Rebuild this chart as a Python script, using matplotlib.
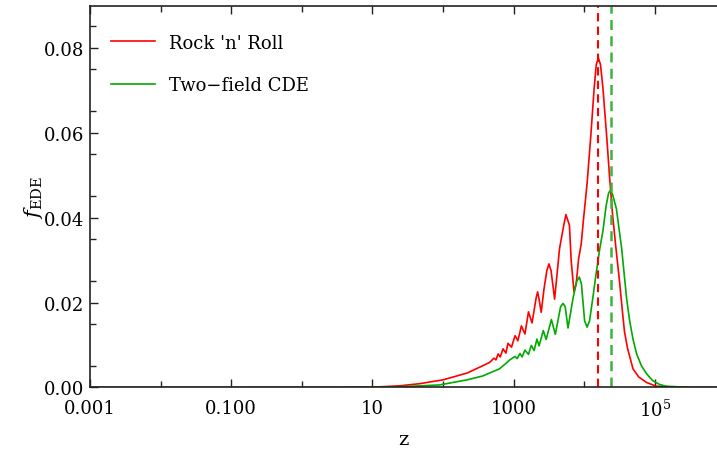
import numpy as np
import matplotlib
matplotlib.use('Agg')
import matplotlib.pyplot as plt
from matplotlib.ticker import FixedLocator, FixedFormatter

# values; x stored as log10(z)
rnr_logz = [-3.0, -1.0, 0.40, 1.0, 1.39, 1.67, 2.0, 2.34, 2.56, 2.66,
            2.72, 2.75, 2.78, 2.81, 2.85, 2.89, 2.92, 2.97, 3.02, 3.06,
            3.11, 3.16, 3.21, 3.26, 3.32, 3.34, 3.36, 3.39, 3.43, 3.47,
            3.50, 3.53, 3.58, 3.65, 3.71, 3.74, 3.79, 3.815, 3.855, 3.886,
            3.92, 3.957, 3.99, 4.04, 4.09, 4.14, 4.17, 4.20, 4.23, 4.265,
            4.32, 4.36, 4.40, 4.445, 4.50, 4.537, 4.57, 4.615, 4.69, 4.77,
            4.88, 5.02, 5.35, 5.87]
rnr_f = [0.0, 0.0, 0.00002, 0.00007, 0.0004, 0.0009, 0.0018, 0.0034, 0.0051, 0.0059,
         0.0069, 0.0065, 0.0079, 0.0072, 0.0091, 0.0081, 0.0104, 0.0095, 0.0122, 0.0110,
         0.0145, 0.0126, 0.0178, 0.0152, 0.0212, 0.0225, 0.0208, 0.0177, 0.0232, 0.0275,
         0.0291, 0.0275, 0.0208, 0.0327, 0.0382, 0.0407, 0.0382, 0.0298, 0.0225, 0.0244,
         0.0303, 0.0338, 0.0397, 0.0480, 0.0586, 0.0704, 0.0760, 0.0776, 0.0760, 0.0704,
         0.0586, 0.0492, 0.0409, 0.0334, 0.0249, 0.0185, 0.0131, 0.0091, 0.0044, 0.0025,
         0.0012, 0.0003, 0.00002, 0.0]

cde_logz = [-3.0, 0.40, 1.0, 1.39, 1.95, 2.34, 2.56, 2.80, 2.90, 2.945,
            3.02, 3.05, 3.09, 3.12, 3.16, 3.21, 3.25, 3.29, 3.33, 3.36,
            3.42, 3.46, 3.535, 3.59, 3.665, 3.70, 3.73, 3.77, 3.84, 3.89,
            3.93, 3.96, 4.005, 4.04, 4.075, 4.12, 4.168, 4.22, 4.265, 4.31,
            4.345, 4.37, 4.40, 4.455, 4.53, 4.60, 4.643, 4.69, 4.742, 4.81,
            4.884, 4.97, 5.068, 5.16, 5.49, 5.87]
cde_f = [0.0, 0.0, 0.00002, 0.00017, 0.0006, 0.0018, 0.0027, 0.0044, 0.0058, 0.0065,
         0.0073, 0.0068, 0.0080, 0.0072, 0.0088, 0.0078, 0.0099, 0.0087, 0.0114, 0.0098,
         0.0134, 0.0113, 0.0160, 0.0125, 0.0190, 0.0198, 0.0190, 0.0140, 0.0209, 0.0249,
         0.0260, 0.0244, 0.0157, 0.0142, 0.0157, 0.0209, 0.0268, 0.0327, 0.0369, 0.0428,
         0.0458, 0.0464, 0.0455, 0.0421, 0.0327, 0.0209, 0.0157, 0.0114, 0.0079, 0.0051,
         0.0032, 0.0016, 0.0007, 0.0003, 0.00002, 0.0]

# peak positions (log10 z) marked by dashed lines
rnr_peak_logz = 4.20
cde_peak_logz = 4.379

xtick_logz = [-3, -1, 1, 3, 5]
xtick_labels = ['0.001', '0.100', '10', '1000', r'$10^5$']
xminor_logz = [-2, 0, 2, 4]
ytick_vals = [0.0, 0.02, 0.04, 0.06, 0.08]
ytick_labels = ['0.00', '0.02', '0.04', '0.06', '0.08']

plt.rcParams['font.family'] = ['DejaVu Serif']
plt.rcParams['mathtext.fontset'] = 'dejavuserif'

fig = plt.figure(figsize=(7.17, 4.52), dpi=100)
ax = fig.add_axes([0.1255, 0.1405, 0.8745, 0.844])

red = '#ff0000'
green = '#00aa00'

ax.plot(10 ** np.array(rnr_logz), rnr_f, color=red, lw=1.2, label="Rock 'n' Roll")
ax.plot(10 ** np.array(cde_logz), cde_f, color=green, lw=1.2, label='Two\u2212field CDE')
ax.axvline(10 ** rnr_peak_logz, color=red, lw=1.5, ls=(0, (4, 2.5)))
ax.axvline(10 ** cde_peak_logz, color='#3cb43c', lw=1.8, ls=(0, (4, 2.5)))

ax.set_xscale('log')
ax.set_xlim(1e-3, 10 ** 5.88)
ax.set_ylim(0, 0.0898)

ax.xaxis.set_major_locator(FixedLocator([10.0 ** v for v in xtick_logz]))
ax.xaxis.set_major_formatter(FixedFormatter(xtick_labels))
ax.xaxis.set_minor_locator(FixedLocator([10.0 ** v for v in xminor_logz]))
ax.xaxis.set_minor_formatter(FixedFormatter([''] * len(xminor_logz)))
ax.set_yticks(ytick_vals)
ax.set_yticklabels(ytick_labels)
ax.set_yticks(np.arange(0.005, 0.09, 0.01), minor=True)

ax.tick_params(which='both', direction='in', top=True, right=False,
               labelsize=13, color='#222222', width=1.0)
ax.tick_params(which='major', length=6)
ax.tick_params(axis='x', which='major', pad=8)
ax.tick_params(axis='y', which='major', pad=4)
ax.tick_params(which='minor', length=4)
ax.spines['right'].set_visible(False)
for s in ['left', 'top', 'bottom']:
    ax.spines[s].set_color('#222222')
    ax.spines[s].set_linewidth(1.2)

ax.set_xlabel('z', fontsize=14, labelpad=7)
ax.set_ylabel(r'$f_{\rm EDE}$', fontsize=15, labelpad=-1)

ax.legend(loc='upper left', frameon=False, fontsize=13, handlelength=2.4,
          handletextpad=0.8, labelspacing=1.35, borderaxespad=0.6,
          bbox_to_anchor=(0.005, 0.975))

fig.savefig('out.png', dpi=100)
